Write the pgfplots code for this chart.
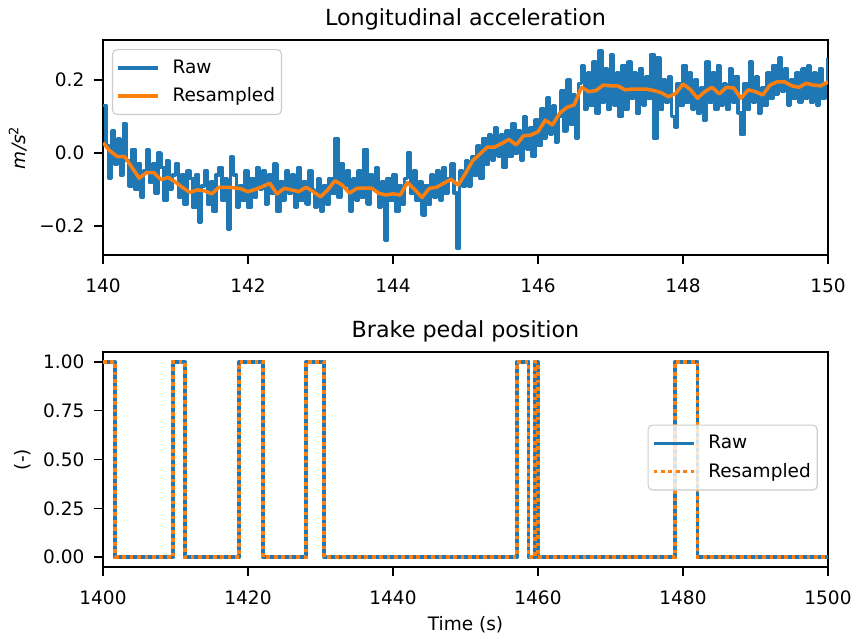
\documentclass[border=0pt]{standalone}
\usepackage{fontspec}
\setmainfont{DejaVu Sans}
\usepackage{pgfplots}
\pgfplotsset{compat=1.18}
\definecolor{tabblue}{HTML}{1F77B4}
\definecolor{taborange}{HTML}{FF7F0E}
\pgfplotsset{
  mpl/.style={
    scale only axis,
    width=391.5pt,
    height=116.1pt,
    axis line style={line width=0.8pt},
    tick align=outside,
    xtick pos=bottom, ytick pos=left,
    major tick length=5pt,
    tick style={line width=0.8pt, black},
    tick label style={font=\fontsize{10}{12}\selectfont},
    xticklabel style={yshift=-4.5pt},
    yticklabel style={xshift=-1.5pt},
    /pgf/number format/assume math mode=true,
    label style={font=\fontsize{10}{12}\selectfont},
    ylabel shift=0pt,
    every axis title shift=0pt,
    title style={font=\fontsize{12}{14}\selectfont, at={(0.5,1)}, anchor=base, yshift=8pt},
    legend cell align=left,
    legend style={draw=black!20, line width=0.6pt, rounded corners=2.5pt, fill=white, fill opacity=0.8, text opacity=1,
      font=\fontsize{10}{12}\selectfont, inner xsep=2pt, inner ysep=4pt, row sep=3.2pt,
      nodes={inner sep=1.5pt}},
    legend image code/.code={\draw[#1] (0pt,0pt) -- (21.6pt,0pt); \path (27pt,0pt);},
  }
}
\begin{document}
\begin{tikzpicture}
\path[use as bounding box] (0,0) rectangle (461.7pt,341.82pt);
\begin{axis}[mpl,
  at={(55.62pt,204.12pt)}, anchor=south west,
  xmin=140, xmax=150, ymin=-0.2795, ymax=0.3096,
  xtick={140,142,144,146,148,150},
  ytick={-0.2,0,0.2}, yticklabels={−0.2,0.0,0.2},
  title={Longitudinal acceleration},
  ylabel={\itshape m/s\textsuperscript{\upshape 2}},
  legend style={at={(0.0124,0.958)}, anchor=north west},
]
\addplot[tabblue, line width=1.9pt, line join=round, const plot] coordinates {
(140.00,0.13)(140.04,0.02)(140.08,-0.07)(140.12,0.06)(140.16,-0.03)
(140.20,0.04)(140.24,-0.06)(140.28,0.08)(140.32,-0.02)(140.36,-0.09)
(140.40,0.01)(140.44,-0.10)(140.48,-0.03)(140.52,-0.12)(140.56,-0.05)
(140.60,0.01)(140.64,-0.08)(140.68,-0.03)(140.72,-0.11)(140.76,0.00)
(140.80,-0.04)(140.84,-0.13)(140.88,-0.02)(140.92,-0.10)(140.96,-0.06)
(141.00,-0.03)(141.04,-0.12)(141.08,-0.06)(141.12,-0.14)(141.16,-0.05)
(141.20,-0.07)(141.24,-0.15)(141.28,-0.06)(141.32,-0.19)(141.36,-0.09)
(141.40,-0.05)(141.44,-0.14)(141.48,-0.08)(141.52,-0.16)(141.56,-0.06)
(141.60,-0.04)(141.64,-0.13)(141.68,-0.07)(141.72,-0.21)(141.76,-0.01)
(141.80,-0.06)(141.84,-0.15)(141.88,-0.09)(141.92,-0.13)(141.96,-0.05)
(142.00,-0.15)(142.04,-0.07)(142.08,-0.12)(142.12,-0.04)(142.16,-0.10)
(142.20,-0.05)(142.24,-0.14)(142.28,-0.06)(142.32,-0.11)(142.36,-0.03)
(142.40,-0.16)(142.44,-0.08)(142.48,-0.13)(142.52,-0.05)(142.56,-0.11)
(142.60,-0.06)(142.64,-0.15)(142.68,-0.04)(142.72,-0.13)(142.76,-0.08)
(142.80,-0.14)(142.84,-0.05)(142.88,-0.10)(142.92,-0.15)(142.96,-0.07)
(143.00,-0.16)(143.04,-0.09)(143.08,-0.14)(143.12,-0.07)(143.16,-0.11)
(143.20,0.04)(143.24,-0.12)(143.28,-0.03)(143.32,-0.09)(143.36,-0.05)
(143.40,-0.16)(143.44,-0.07)(143.48,-0.13)(143.52,-0.05)(143.56,-0.12)
(143.60,0.01)(143.64,-0.14)(143.68,-0.06)(143.72,-0.10)(143.76,-0.04)
(143.80,-0.15)(143.84,-0.08)(143.88,-0.24)(143.92,-0.07)(143.96,-0.13)
(144.00,-0.06)(144.04,-0.16)(144.08,-0.09)(144.12,-0.14)(144.16,-0.07)
(144.20,0.00)(144.24,-0.11)(144.28,-0.05)(144.32,-0.13)(144.36,-0.08)
(144.40,-0.17)(144.44,-0.09)(144.48,-0.14)(144.52,-0.06)(144.56,-0.12)
(144.60,-0.05)(144.64,-0.13)(144.68,-0.04)(144.72,-0.11)(144.76,-0.07)
(144.80,-0.03)(144.84,-0.11)(144.88,-0.26)(144.92,-0.05)(144.96,-0.09)
(145.00,-0.02)(145.04,-0.09)(145.08,-0.01)(145.12,-0.06)(145.16,0.02)
(145.20,-0.07)(145.24,0.04)(145.28,-0.03)(145.32,0.05)(145.36,-0.02)
(145.40,0.07)(145.44,-0.01)(145.48,0.05)(145.52,-0.04)(145.56,0.06)
(145.60,-0.01)(145.64,0.08)(145.68,0.00)(145.72,0.06)(145.76,-0.02)
(145.80,0.10)(145.84,0.01)(145.88,0.07)(145.92,-0.01)(145.96,0.09)
(146.00,0.02)(146.04,0.12)(146.08,0.04)(146.12,0.15)(146.16,0.05)
(146.20,0.13)(146.24,0.03)(146.28,0.10)(146.32,0.17)(146.36,0.06)
(146.40,0.20)(146.44,0.08)(146.48,0.16)(146.52,0.04)(146.56,0.19)
(146.60,0.24)(146.64,0.12)(146.68,0.22)(146.72,0.13)(146.76,0.25)
(146.80,0.11)(146.84,0.28)(146.88,0.14)(146.92,0.23)(146.96,0.12)
(147.00,0.27)(147.04,0.13)(147.08,0.22)(147.12,0.10)(147.16,0.24)
(147.20,0.12)(147.24,0.25)(147.28,0.15)(147.32,0.22)(147.36,0.11)
(147.40,0.23)(147.44,0.13)(147.48,0.21)(147.52,0.15)(147.56,0.27)
(147.60,0.04)(147.64,0.26)(147.68,0.12)(147.72,0.20)(147.76,0.14)
(147.80,0.21)(147.84,0.10)(147.88,0.07)(147.92,0.19)(147.96,0.13)
(148.00,0.24)(148.04,0.14)(148.08,0.22)(148.12,0.12)(148.16,0.20)
(148.20,0.11)(148.24,0.18)(148.28,0.09)(148.32,0.25)(148.36,0.14)
(148.40,0.22)(148.44,0.12)(148.48,0.24)(148.52,0.13)(148.56,0.19)
(148.60,0.12)(148.64,0.23)(148.68,0.14)(148.72,0.21)(148.76,0.11)
(148.80,0.05)(148.84,0.19)(148.88,0.12)(148.92,0.25)(148.96,0.14)
(149.00,0.21)(149.04,0.11)(149.08,0.18)(149.12,0.13)(149.16,0.22)
(149.20,0.15)(149.24,0.24)(149.28,0.16)(149.32,0.26)(149.36,0.17)
(149.40,0.23)(149.44,0.13)(149.48,0.20)(149.52,0.15)(149.56,0.22)
(149.60,0.14)(149.64,0.23)(149.68,0.15)(149.72,0.24)(149.76,0.14)
(149.80,0.22)(149.84,0.13)(149.88,0.23)(149.92,0.15)(149.96,0.19)
(150.00,0.26)
};
\addlegendentry{Raw}
\addplot[taborange, line width=1.9pt, line join=round] coordinates {
(140.0,0.028)(140.1,0.005)(140.2,-0.010)(140.3,-0.010)(140.4,-0.040)
(140.5,-0.069)(140.6,-0.054)(140.7,-0.054)(140.8,-0.073)(140.9,-0.067)
(141.0,-0.080)(141.1,-0.095)(141.2,-0.108)(141.3,-0.101)(141.4,-0.104)
(141.5,-0.112)(141.6,-0.094)(141.7,-0.094)(141.8,-0.095)(141.9,-0.098)
(142.0,-0.106)(142.1,-0.100)(142.2,-0.092)(142.3,-0.083)(142.4,-0.112)
(142.5,-0.097)(142.6,-0.101)(142.7,-0.106)(142.8,-0.094)(142.9,-0.106)
(143.0,-0.120)(143.1,-0.101)(143.2,-0.076)(143.3,-0.088)(143.4,-0.110)
(143.5,-0.097)(143.6,-0.096)(143.7,-0.096)(143.8,-0.110)(143.9,-0.115)
(144.0,-0.112)(144.1,-0.115)(144.2,-0.081)(144.3,-0.100)(144.4,-0.122)
(144.5,-0.097)(144.6,-0.094)(144.7,-0.083)(144.8,-0.072)(144.9,-0.088)
(145.0,-0.056)(145.1,-0.021)(145.2,-0.003)(145.3,0.016)(145.4,0.016)
(145.5,0.026)(145.6,0.037)(145.7,0.022)(145.8,0.047)(145.9,0.049)
(146.0,0.058)(146.1,0.090)(146.2,0.077)(146.3,0.109)(146.4,0.125)
(146.5,0.132)(146.6,0.180)(146.7,0.168)(146.8,0.171)(146.9,0.186)
(147.0,0.184)(147.1,0.184)(147.2,0.173)(147.3,0.175)(147.4,0.175)
(147.5,0.175)(147.6,0.171)(147.7,0.165)(147.8,0.154)(147.9,0.163)
(148.0,0.189)(148.1,0.174)(148.2,0.150)(148.3,0.168)(148.4,0.180)
(148.5,0.162)(148.6,0.180)(148.7,0.178)(148.8,0.150)(148.9,0.173)
(149.0,0.168)(149.1,0.159)(149.2,0.186)(149.3,0.195)(149.4,0.195)
(149.5,0.184)(149.6,0.180)(149.7,0.191)(149.8,0.186)(149.9,0.184)
(150.0,0.195)
};
\addlegendentry{Resampled}
\end{axis}
\begin{axis}[mpl,
  at={(55.62pt,35.64pt)}, anchor=south west,
  xmin=1400, xmax=1500, ymin=-0.05, ymax=1.05,
  xtick={1400,1420,1440,1460,1480,1500},
  ytick={0,0.25,0.5,0.75,1},
  yticklabel style={/pgf/number format/.cd, fixed, fixed zerofill, precision=2},
  xticklabel style={/pgf/number format/.cd, 1000 sep={}},
  title={Brake pedal position},
  ylabel={(-)},
  xlabel={Time (s)},
  xlabel shift=-1pt,
  legend style={at={(0.986,0.509)}, anchor=east},
]
\addplot[tabblue, line width=2pt, line join=round] coordinates {
(1400,1)(1401.7,1)(1401.7,0)(1409.7,0)(1409.7,1)(1411.3,1)(1411.3,0)
(1418.8,0)(1418.8,1)(1422.1,1)(1422.1,0)(1428.0,0)(1428.0,1)(1430.5,1)(1430.5,0)
(1457.1,0)(1457.1,1)(1458.7,1)(1458.7,0)(1459.6,0)(1459.6,1)(1460.0,1)(1460.0,0)
(1478.9,0)(1478.9,1)(1482.0,1)(1482.0,0)(1500,0)
};
\addlegendentry{Raw}
\addplot[taborange, line width=2pt, dash pattern=on 2pt off 2pt] coordinates {
(1400,1)(1401.7,1)(1401.7,0)(1409.7,0)(1409.7,1)(1411.3,1)(1411.3,0)
(1418.8,0)(1418.8,1)(1422.1,1)(1422.1,0)(1428.0,0)(1428.0,1)(1430.5,1)(1430.5,0)
(1457.1,0)(1457.1,1)(1458.7,1)(1458.7,0)(1459.6,0)(1459.6,1)(1460.0,1)(1460.0,0)
(1478.9,0)(1478.9,1)(1482.0,1)(1482.0,0)(1500,0)
};
\addlegendentry{Resampled}
\end{axis}
\end{tikzpicture}
\end{document}
